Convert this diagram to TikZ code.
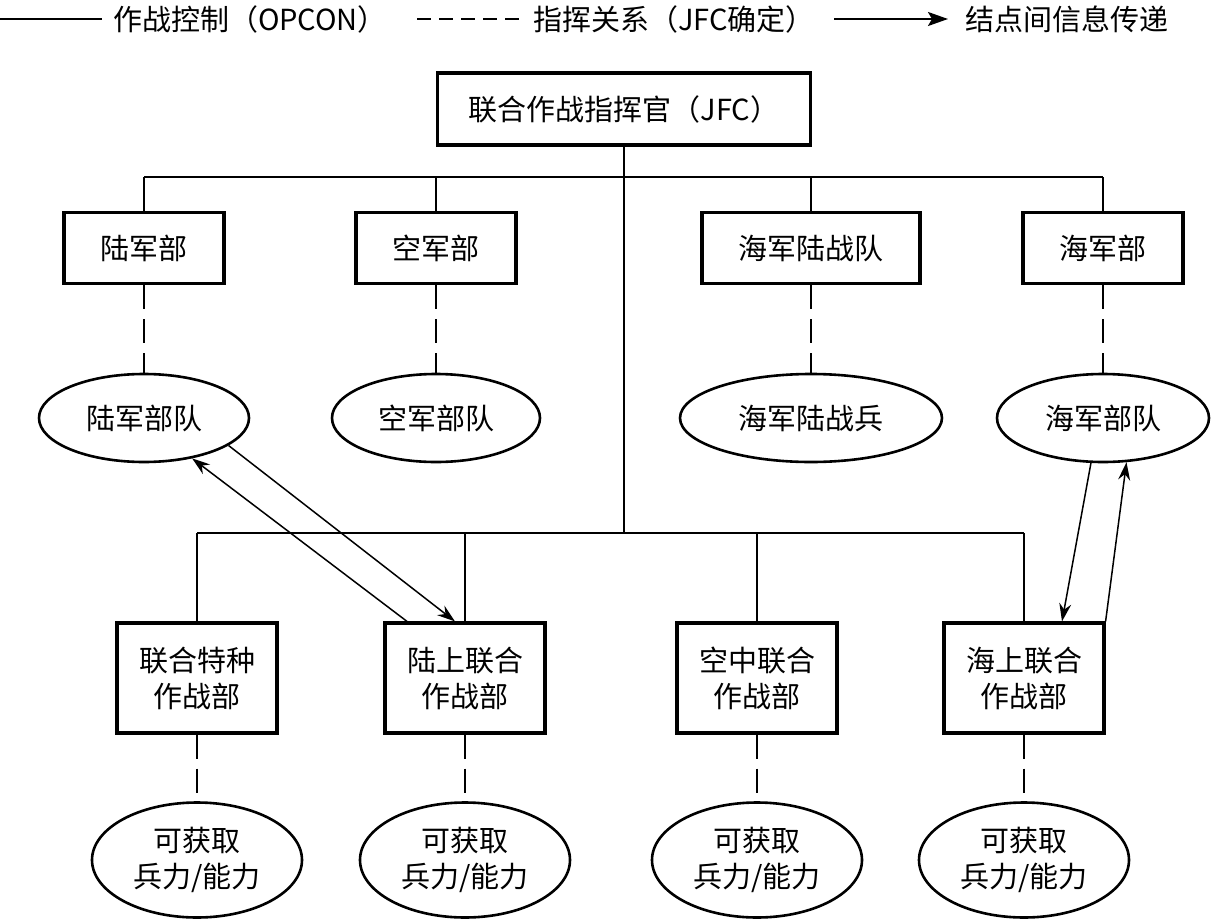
\documentclass[tikz,border=0pt]{standalone}
\usepackage{fontspec}
\setmainfont{Noto Sans CJK SC}
\usetikzlibrary{arrows.meta}
\usetikzlibrary{calc}
\usetikzlibrary{shapes.geometric}

\begin{document}
\begin{tikzpicture}[x=0.5pt,y=-0.5pt,
  font=\fontsize{14.5}{18}\selectfont,
  unit/.style={draw,line width=1.6pt,minimum width=80pt,minimum height=35.5pt,inner sep=2pt,align=center},
  force/.style={draw,ellipse,line width=1.3pt,inner sep=0pt,minimum height=44pt,align=center},
  ctrl/.style={line width=0.75pt},
  cmd/.style={line width=0.75pt,dash pattern=on 12pt off 5pt},
  info/.style={line width=0.75pt,-{Stealth[length=9pt,width=6pt,inset=3pt]}},
  key/.style={right,inner xsep=5pt}]

  \useasboundingbox (0,0) rectangle (1211,921);

  % legend
  \coordinate (k1a) at (0,19);
  \coordinate (k1b) at (102,19);
  \coordinate (k2a) at (417,19);
  \coordinate (k2b) at (522,19);
  \coordinate (k3a) at (834,19);
  \coordinate (k3b) at (948,19);

  \draw[line width=1pt] (k1a) -- (k1b) node[key] (t1) {作战控制（OPCON）};
  \draw[line width=1pt,dash pattern=on 7pt off 4pt] (k2a) -- (k2b) node[key] (t2) {指挥关系（JFC确定）};
  \draw[line width=1pt,-{Stealth[length=10pt,width=7pt,inset=2pt]}] (k3a) -- (k3b) node[key,inner xsep=8pt] (t3) {结点间信息传递};

  % commander
  \node[unit,minimum width=186.5pt,minimum height=36pt] (jfc) at (624,109) {联合作战指挥官（JFC）};

  % service components
  \node[unit] (army) at (144,248) {陆军部};
  \node[unit] (air) at (436,248) {空军部};
  \node[unit,minimum width=109pt] (marine) at (811,248) {海军陆战队};
  \node[unit] (navy) at (1103,248) {海军部};

  \node[force,minimum width=105pt] (armyf) at (144,418) {陆军部队};
  \node[force,minimum width=104pt] (airf) at (436,418) {空军部队};
  \node[force,minimum width=131pt] (marinef) at (811,418) {海军陆战兵};
  \node[force,minimum width=106pt] (navyf) at (1103,418) {海军部队};

  % functional components
  \node[unit,minimum height=55pt] (sof) at (197,678) {联合特种\\作战部};
  \node[unit,minimum height=55pt] (land) at (465,678) {陆上联合\\作战部};
  \node[unit,minimum height=55pt] (airc) at (757,678) {空中联合\\作战部};
  \node[unit,minimum height=55pt] (sea) at (1024,678) {海上联合\\作战部};

  \node[force,minimum width=105pt,minimum height=57.5pt] (sofa) at (197,860) {可获取\\兵力/能力};
  \node[force,minimum width=105pt,minimum height=57.5pt] (landa) at (465,860) {可获取\\兵力/能力};
  \node[force,minimum width=105pt,minimum height=57.5pt] (airca) at (757,860) {可获取\\兵力/能力};
  \node[force,minimum width=105pt,minimum height=57.5pt] (seaa) at (1024,860) {可获取\\兵力/能力};

  \coordinate (busT) at (626,177);
  \coordinate (busB) at (626,533);

  % OPCON lines
  \draw[ctrl] (jfc.south) -- (jfc.south |- busB);
  \draw[ctrl] (army.north |- busT) -- (navy.north |- busT);
  \draw[ctrl] (sof.north |- busB) -- (sea.north |- busB);
  \foreach \n in {army,air,marine,navy}
    \draw[ctrl] (\n.north) -- (\n.north |- busT);
  \foreach \n in {sof,land,airc,sea}
    \draw[ctrl] (\n.north) -- (\n.north |- busB);

  % command relations
  \foreach \a/\b in {army/armyf,air/airf,marine/marinef,navy/navyf,sof/sofa,land/landa,airc/airca,sea/seaa}
    \draw[cmd] (\a) -- (\b);

  % information flow
  \draw[info] (armyf.-18) -- ($(land.north)+(-10,0)$);
  \draw[info] ($(land.north)+(-58,0)$) -- (armyf.-40);
  \draw[info] (navyf.-105) -- ($(sea.north)+(38,0)$);
  \draw[info] (sea.north east) -- (navyf.-62);

\end{tikzpicture}
\end{document}
